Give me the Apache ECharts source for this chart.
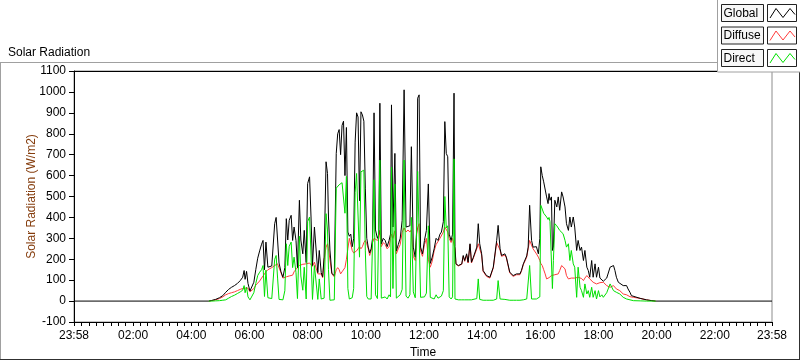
<!DOCTYPE html>
<html><head><meta charset="utf-8">
<script src="https://cdn.jsdelivr.net/npm/echarts@6/dist/echarts.min.js"></script>
<style>html,body{margin:0;padding:0;background:#fff}#c{width:800px;height:361px}</style>
</head><body><div id="c"></div>
<script>
// time in minutes from 00:00
const times=[
-2,276,282,290,298,305,311,317,323,329,
335,341,346,349,351,354,357,361,365,369,
373,377,381,385,388,391,394,398,402,406,
409,412,415,418,421,425,429,433,436,439,
442,446,449,452,456,459,463,466,470,473,
477,480,484,487,490,494,497,501,504,508,
511,514,518,521,523,526,530,535,539,542,
545,548,551,554,557,560,563,566,569,572,
575,578,581,584,587,590,593,596,599,602,
605,608,611,614,617,620,624,627,629,632,
636,640,644,648,651,653,656,660,663,667,
671,675,679,683,687,691,694,698,702,705,
707,710,713,717,721,725,729,733,737,741,
745,749,753,756,760,763,766,769,772,776,
779,782,784,786,791,798,801,804,808,811,
815,818,822,829,832,835,839,842,849,856,
863,870,873,877,880,887,890,897,904,911,
918,921,925,932,935,938,942,945,952,956,
959,961,964,967,970,973,976,978,980,983,
985,987,990,994,997,1000,1004,1007,1011,1014,
1018,1021,1024,1028,1031,1035,1038,1042,1045,1049,
1052,1056,1059,1062,1066,1069,1073,1076,1080,1083,
1087,1090,1097,1104,1111,1114,1117,1121,1124,1131,
1135,1138,1141,1145,1148,1152,1166,1179,1190,1198,
1438];
const globalVals=[
0,0,3,8,16,26,42,56,66,74,
84,98,114,146,104,142,84,48,56,90,
150,205,240,272,290,150,282,162,156,168,
176,370,400,292,182,140,114,160,394,292,
386,410,290,354,290,160,482,292,226,338,
184,562,594,402,170,354,346,136,242,136,
116,210,666,610,402,244,132,122,706,800,
820,700,840,860,600,830,330,310,320,260,
300,760,900,880,480,905,890,860,540,300,
258,230,250,300,900,340,300,320,946,274,
300,290,260,290,320,938,354,706,240,270,
300,386,1010,354,354,360,738,258,210,338,
970,986,258,226,290,338,560,180,210,250,
300,290,320,330,380,858,706,690,320,290,
320,994,260,178,170,178,218,194,226,186,
274,186,210,258,370,274,226,146,122,114,
162,290,362,250,218,226,210,138,122,130,
130,146,178,216,258,458,290,258,260,226,
300,642,600,570,562,498,466,514,482,498,
242,258,482,450,498,434,522,498,450,370,
338,402,354,402,354,242,290,242,258,194,
242,162,146,114,194,114,178,114,162,110,
114,95,110,162,170,146,114,90,82,74,
66,74,58,42,26,21,13,6,2,0,
0];
const diffuseVals=[
null,0,2,6,12,20,30,36,40,44,
50,56,60,66,62,70,62,44,50,60,
76,86,96,110,120,128,140,150,150,160,
166,170,176,178,180,136,110,110,116,120,
120,124,124,140,152,154,170,174,176,178,
178,180,182,184,166,186,186,130,136,130,
112,200,258,274,250,242,130,116,150,160,
150,130,140,140,160,200,250,300,306,242,
230,230,240,250,260,250,260,280,290,274,
250,218,240,280,300,306,290,300,338,260,
280,270,250,260,300,320,300,336,226,250,
270,330,350,330,340,330,340,214,194,320,
350,370,240,214,270,300,200,162,190,240,
270,276,300,306,330,354,354,330,300,280,
300,300,250,176,168,176,214,190,220,182,
270,182,206,250,274,268,220,142,118,110,
158,280,274,244,214,220,206,134,118,126,
126,142,174,210,250,290,282,250,226,210,
194,180,170,150,130,106,110,112,114,122,
126,130,126,122,130,146,170,178,154,122,
106,114,110,106,110,114,114,114,108,98,
110,122,114,106,98,90,86,82,86,88,
90,90,74,66,74,66,58,54,50,34,
32,30,26,21,20,18,13,6,2,0,
null];
const directVals=[
null,0,0,1,2,4,6,14,22,28,
36,44,52,74,40,66,20,6,10,40,
84,122,138,150,170,22,148,16,10,12,
14,200,218,110,8,6,6,50,274,170,
262,282,160,210,136,12,310,120,52,162,
10,380,402,220,8,170,162,8,106,10,
6,14,418,340,150,4,4,6,540,548,
556,560,566,574,420,596,60,10,12,16,
60,520,610,614,210,618,622,626,240,22,
10,8,10,18,580,30,12,20,674,14,
20,20,10,30,20,640,60,560,14,20,
30,56,674,24,14,30,400,44,16,18,
620,616,18,12,20,38,360,18,20,10,
30,14,20,24,50,500,350,360,20,10,
20,680,10,8,6,6,8,6,8,6,
10,6,8,12,106,8,6,4,4,4,
4,10,98,10,6,8,6,4,4,4,
4,4,6,10,12,170,10,8,10,8,
20,458,440,420,418,402,390,400,380,386,
60,194,370,360,354,338,346,322,290,258,
274,194,242,178,162,18,162,66,50,18,
82,34,50,18,66,18,50,10,50,20,
30,18,40,82,50,46,42,36,34,18,
14,10,8,6,4,2,1,0,0,0,
null];
const xLabelValues=[-2,120,240,360,480,600,720,840,960,1080,1200,1320,1438];
const legendNames=['Global','Diffuse','Direct'];
const legendColors=['#000000','#ff3c3c','#00e000'];

if(globalVals.length!==times.length||diffuseVals.length!==times.length||directVals.length!==times.length){
  throw new Error('length mismatch '+times.length+' '+globalVals.length+' '+diffuseVals.length+' '+directVals.length);
}
function fmt(v){
  if(v<0||v>1400) return '23:58';
  const h=Math.floor(v/60), m=Math.round(v%60);
  return String(h).padStart(2,'0')+':'+String(m).padStart(2,'0');
}
const tickValues=[];
for(let i=0;i<xLabelValues.length-1;i++){
  const a=xLabelValues[i],b=xLabelValues[i+1];
  for(let k=0;k<8;k++) tickValues.push(a+(b-a)*k/8);
}
tickValues.push(xLabelValues[xLabelValues.length-1]);

const FONT='Liberation Sans';
const pair=(arr)=>times.map((t,i)=>[t,arr[i]]);

const graphics=[
  {type:'line',shape:{x1:0,y1:62.5,x2:718,y2:62.5},style:{stroke:'#a0a0a0',lineWidth:1},z:50},
  {type:'line',shape:{x1:0.5,y1:62,x2:0.5,y2:360},style:{stroke:'#a0a0a0',lineWidth:1},z:50},
  {type:'line',shape:{x1:0,y1:359.5,x2:800,y2:359.5},style:{stroke:'#303030',lineWidth:1},z:50},
  {type:'line',shape:{x1:799.5,y1:72,x2:799.5,y2:360},style:{stroke:'#303030',lineWidth:1},z:50},
  {type:'rect',shape:{x:717.5,y:-1,width:84,height:73},style:{fill:'#ffffff',stroke:'#a0a0a0',lineWidth:1},z:100}
];
const legendTops=[4.5,27,49.5];
legendNames.forEach((n,i)=>{
  const y=legendTops[i];
  graphics.push({type:'rect',shape:{x:721.5,y:y,width:42,height:17},style:{fill:'#f7f7f7',stroke:'#222',lineWidth:1},z:101});
  graphics.push({type:'text',x:723.5,y:y+9,style:{text:n,font:'12px "Liberation Sans"',fill:'#000',textVerticalAlign:'middle',verticalAlign:'middle'},z:102});
  graphics.push({type:'rect',shape:{x:767.5,y:y,width:29,height:17},style:{fill:'#ffffff',stroke:'#222',lineWidth:1},z:101});
  graphics.push({type:'polyline',shape:{points:[[770,y+13.5],[776,y+4],[783,y+13],[790,y+4],[795,y+10]]},style:{stroke:legendColors[i],lineWidth:1,fill:null},z:102});
});

const chart=echarts.init(document.getElementById('c'),null,{renderer:'canvas'});
chart.setOption({
  animation:false,
  textStyle:{fontFamily:FONT},
  title:{text:'Solar Radiation',left:3,top:42,textStyle:{fontSize:12,fontWeight:'normal',color:'#000',fontFamily:FONT}},
  grid:{left:74,top:71,width:698,height:251,show:true,borderColor:'#8c8c8c',borderWidth:1,backgroundColor:'#fff',containLabel:false,outerBoundsMode:'none'},
  xAxis:[{
    type:'value',min:-2,max:1438,
    name:'Time',nameLocation:'middle',nameGap:25,nameMoveOverlap:false,
    nameTextStyle:{fontSize:12,color:'#000',fontFamily:FONT},
    axisLine:{show:true,onZero:false,lineStyle:{color:'#000',width:1}},
    axisTick:{show:true,customValues:tickValues,length:4,lineStyle:{color:'#000'}},
    axisLabel:{customValues:xLabelValues,formatter:fmt,fontSize:12,color:'#000',margin:8,fontFamily:FONT},
    splitLine:{show:false}
  },{
    type:'value',position:'top',min:-2,max:1438,
    axisLine:{show:true,onZero:false,lineStyle:{color:'#000',width:1}},
    axisTick:{show:false},axisLabel:{show:false},splitLine:{show:false}
  }],
  yAxis:{
    type:'value',min:-100,max:1100,interval:100,
    name:'Solar Radiation (W/m2)',nameLocation:'middle',nameGap:36,nameRotate:90,nameMoveOverlap:false,
    nameTextStyle:{fontSize:12,color:'#843c0c',fontFamily:FONT},
    axisLine:{show:true,onZero:false,lineStyle:{color:'#000',width:1}},
    axisTick:{show:true,length:5,lineStyle:{color:'#000'}},
    axisLabel:{fontSize:12,color:'#000',margin:8,fontFamily:FONT,formatter:(v)=>String(v)},
    splitLine:{show:false}
  },
  series:[
    {name:'Diffuse',type:'line',data:pair(diffuseVals),showSymbol:false,symbol:'none',lineStyle:{color:legendColors[1],width:1},itemStyle:{color:legendColors[1]},z:2},
    {name:'Global',type:'line',data:pair(globalVals),showSymbol:false,symbol:'none',lineStyle:{color:legendColors[0],width:1},itemStyle:{color:legendColors[0]},z:3},
    {name:'Direct',type:'line',data:pair(directVals),showSymbol:false,symbol:'none',lineStyle:{color:legendColors[2],width:1},itemStyle:{color:legendColors[2]},z:4}
  ],
  graphic:graphics
});
</script></body></html>
